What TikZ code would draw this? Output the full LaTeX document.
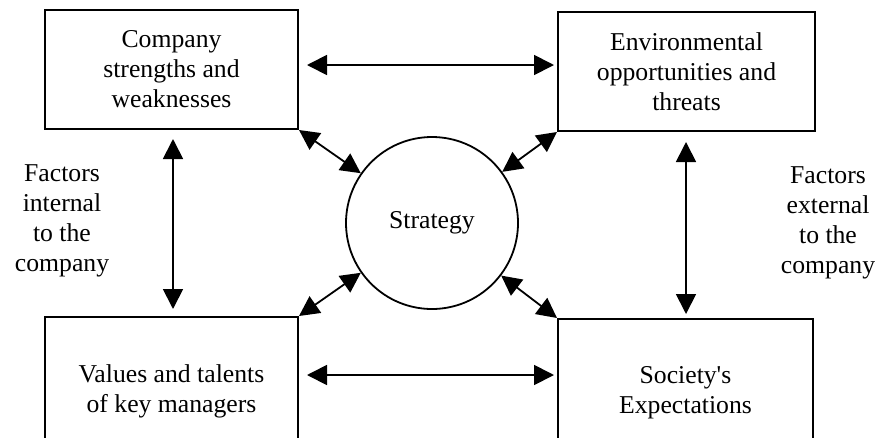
\documentclass[tikz,border=0pt]{standalone}
\usepackage{fontspec}
\setmainfont{Liberation Serif}
\usetikzlibrary{arrows.meta}
\begin{document}
\begin{tikzpicture}[x=1pt,y=-1pt,
  font=\fontsize{25.7}{30}\selectfont,
  box/.style={draw, line width=2pt, rectangle, inner sep=0pt, align=center},
  dbl/.style={line width=1.8pt, {Triangle[length=20pt,width=20pt]}-{Triangle[length=20pt,width=20pt]}},
  lbl/.style={align=center, inner sep=0pt}]
\path[use as bounding box, clip] (0,0) rectangle (880,437);
\fill[white] (0,0) rectangle (880,437);
\node[box, minimum width=253pt, minimum height=119pt] (TL) at (171.5,69.5) {Company\\strengths and\\weaknesses};
\node[box, minimum width=257pt, minimum height=119pt] (TR) at (686.5,71.5) {Environmental\\opportunities and\\threats};
\node[box, minimum width=253pt, minimum height=148pt] (BL) at (171.5,391) {Values and talents\\of key managers};
\node[box, minimum width=255pt, minimum height=148pt] (BR) at (685.5,393) {Society\textquotesingle s\\Expectations};
\node[draw, circle, line width=1.8pt, minimum size=172pt, inner sep=0pt] (S) at (432,223) {Strategy};
\node[lbl] (IN) at (62,221) {Factors\\internal\\to the\\company};
\node[lbl] (EX) at (828,223) {Factors\\external\\to the\\company};
\draw[dbl] ([xshift=8pt,yshift=4.5pt]TL.east) -- ([xshift=-3pt,yshift=6.5pt]TR.west);
\draw[dbl] ([xshift=8pt,yshift=16pt]BL.east) -- ([xshift=-3pt,yshift=18pt]BR.west);
\draw[dbl] ([xshift=1.5pt,yshift=-9pt]TL.south) -- ([xshift=1.5pt,yshift=7pt]BL.north);
\draw[dbl] ([xshift=-0.5pt,yshift=-10pt]TR.south) -- ([xshift=0.5pt,yshift=4pt]BR.north);
\draw[dbl] (TL.south east) -- (S);
\draw[dbl] (TR.south west) -- (S);
\draw[dbl] (BL.north east) -- (S);
\draw[dbl] (BR.north west) -- (S);
\end{tikzpicture}
\end{document}
